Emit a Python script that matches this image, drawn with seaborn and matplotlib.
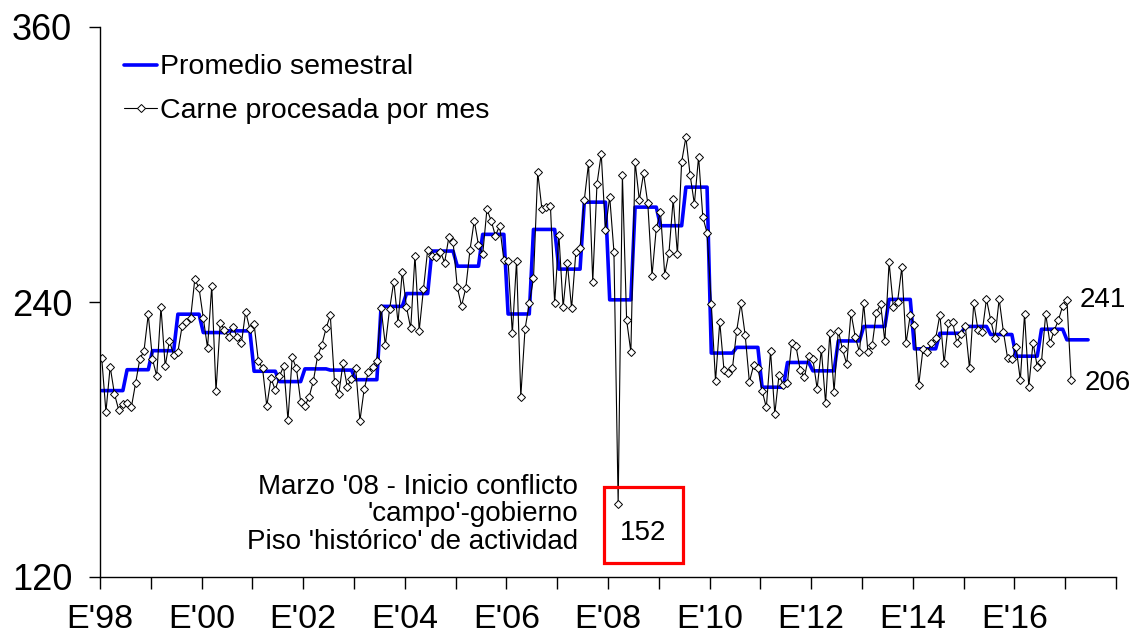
import numpy as np
import pandas as pd
import matplotlib
matplotlib.use("Agg")
import matplotlib.pyplot as plt
import seaborn as sns
from matplotlib.patches import Rectangle

# =============================================================================
# Datos: carne procesada por mes (ene-98 a feb-17)
# =============================================================================
y1998 = [215.7, 192, 211.8, 200, 193, 195.5, 195.8, 194, 204.5, 215, 218.8, 234.6]
y1999 = [215, 207.7, 237.8, 212, 223, 217, 218.3, 229.5, 231.4, 232.9, 250, 246]
y2000 = [233, 220, 247, 201, 231, 228, 224.6, 229.2, 224.6, 222, 235.8, 228.2]
y2001 = [230.4, 214.4, 211, 194.6, 206.7, 201.6, 207.7, 212, 188.5, 215.9, 211, 196.5]
y2002 = [194.6, 198.7, 205.5, 216.4, 221.2, 228.5, 234.2, 205, 199.9, 213.2, 203.1, 206.3]
y2003 = [211, 188.2, 201.9, 209.6, 211.5, 214.4, 237.4, 221.2, 236.8, 248.9, 231, 253.2]
y2004 = [237.7, 228.5, 260.2, 227.5, 245.5, 262.7, 260, 259.7, 262, 257.2, 268.2, 266.3]
y2005 = [246.4, 238.3, 246, 262.7, 275.5, 264.9, 260.8, 280.4, 275.5, 268.9, 273.2, 258.3]
y2006 = [258, 226.3, 258, 198.7, 228.2, 239.4, 250.3, 296.6, 280.4, 281.3, 282, 239.4]
y2007 = [269.2, 237.7, 256.9, 237.2, 261.7, 263.4, 284.5, 300.5, 248.9, 291.5, 304.6, 271.4]
y2008 = [286, 262, 152, 295.4, 232.1, 218.2, 301.2, 284.5, 296.1, 283, 251.5, 272.1]
y2009 = [279.4, 251.9, 261.5, 284.8, 260.9, 301.2, 311.9, 295.4, 282.8, 303.4, 277, 270.2]
y2010 = [239.1, 205.5, 231.3, 210.3, 208.9, 211.2, 227.5, 239.4, 225.6, 205.1, 212.4, 211.2]
y2011 = [201.3, 194, 218.6, 191.1, 208.3, 203.6, 204.8, 222.3, 220.8, 210.3, 207.1, 216.4]
y2012 = [215, 202.2, 219.3, 195.8, 226.6, 200.9, 227.5, 219.3, 212.9, 235.3, 224.9, 218.2]
y2013 = [239.4, 218.2, 221.1, 235.3, 239.1, 222.8, 257.3, 238, 240.1, 255.1, 222, 234.3]
y2014 = [230, 203.8, 219.3, 218.2, 222, 224.1, 234.5, 213.2, 230.7, 231.4, 222.3, 226]
y2015 = [229.5, 211, 239.4, 227.8, 227, 241.3, 232.1, 224.1, 241.3, 227, 215.4, 215]
y2016 = [220.2, 206, 234.8, 203, 222.3, 211.8, 214, 234.8, 222, 227.5, 232.1, 238.3]
y2017 = [241, 206]

TICK_LABELS = ["E'98", "E'00", "E'02", "E'04", "E'06", "E'08",
               "E'10", "E'12", "E'14", "E'16"]
Y_TICKS = [120, 240, 360]

NOTA = "Marzo '08 - Inicio conflicto\n'campo'-gobierno\nPiso 'histórico' de actividad"

# =============================================================================
# Preparación
# =============================================================================
valores = (y1998 + y1999 + y2000 + y2001 + y2002 + y2003 + y2004 + y2005
           + y2006 + y2007 + y2008 + y2009 + y2010 + y2011 + y2012 + y2013
           + y2014 + y2015 + y2016 + y2017)
mensual = pd.DataFrame({"mes": np.arange(len(valores)), "valor": valores})
mensual["semestre"] = mensual["mes"] // 6
promedio = mensual.groupby("semestre")["valor"].mean()

semestral = pd.DataFrame({"mes": np.arange((mensual["semestre"].max() + 1) * 6)})
semestral["semestre"] = semestral["mes"] // 6
semestral["valor"] = semestral["semestre"].map(promedio)

X_OFF = 0.4
mensual["x"] = mensual["mes"] + X_OFF
semestral["x"] = semestral["mes"] + X_OFF

# =============================================================================
# Gráfico
# =============================================================================
sns.set_style("white")
plt.rcParams["font.family"] = ["Liberation Sans", "DejaVu Sans"]
plt.rcParams["text.color"] = "black"
plt.rcParams["xtick.color"] = "black"
plt.rcParams["ytick.color"] = "black"
plt.rcParams["axes.labelcolor"] = "black"

fig = plt.figure(figsize=(11.34, 6.34), dpi=100)
ax = fig.add_axes([100 / 1134, 57 / 634, 1016 / 1134, 550 / 634])

sns.lineplot(data=semestral, x="x", y="valor", ax=ax, color="#0000FF",
             lw=2.6, label="Promedio semestral")
sns.lineplot(data=mensual, x="x", y="valor", ax=ax, color="black", lw=0.8,
             marker="D", markersize=3.7, markerfacecolor="white",
             markeredgecolor="black", markeredgewidth=0.7,
             label="Carne procesada por mes")

ax.set_xlim(0, 240)
ax.set_ylim(120, 360)
ax.set_yticks(Y_TICKS)
ax.set_yticklabels([str(v) for v in Y_TICKS])
ax.set_xticks(np.arange(0, 241, 12))
etiquetas = []
for i in range(21):
    etiquetas.append(TICK_LABELS[i // 2] if i % 2 == 0 and i // 2 < len(TICK_LABELS) else "")
ax.set_xticklabels(etiquetas)
ax.set_xlabel("")
ax.set_ylabel("")

for lado in ["top", "right"]:
    ax.spines[lado].set_visible(False)
for lado in ["left", "bottom"]:
    ax.spines[lado].set_color("black")
    ax.spines[lado].set_linewidth(1)
ax.tick_params(axis="x", direction="out", length=8.5, width=1, pad=11,
               labelsize=24.5, colors="black", bottom=True)
ax.tick_params(axis="y", direction="out", length=8, width=1, pad=12,
               labelsize=26, colors="black", left=True)

leg = ax.legend(loc="upper left", bbox_to_anchor=(0.024, 0.950),
                frameon=False, fontsize=20.5, handlelength=1.15,
                handletextpad=0.1, borderpad=0, borderaxespad=0,
                labelspacing=0.62)

# --- Anotaciones ---
ax.text(112.9, 147.4, NOTA, ha="right", va="center", fontsize=20,
        linespacing=1.08)
ax.add_patch(Rectangle((119, 126.1), 18.7, 33.2, fill=False,
                       edgecolor="#FF0000", lw=2.3, zorder=5))
ax.text(128.3, 139.2, "152", ha="center", va="center", fontsize=20)

ultimo = mensual.iloc[-2]
ax.annotate("241", xy=(ultimo["x"], ultimo["valor"]), xytext=(9.5, 0),
            textcoords="offset points", ha="left", va="center", fontsize=20)
ultimo = mensual.iloc[-1]
ax.annotate("206", xy=(ultimo["x"], ultimo["valor"]), xytext=(10, -2),
            textcoords="offset points", ha="left", va="center", fontsize=20)

fig.savefig("out.png", dpi=100)
plt.close(fig)
